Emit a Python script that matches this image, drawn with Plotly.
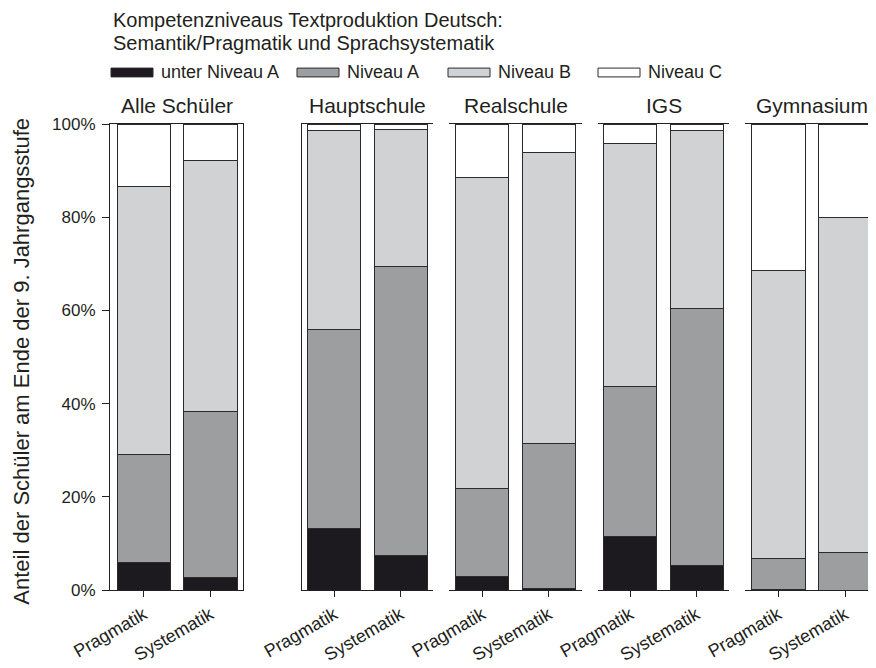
import plotly.graph_objects as go

# ---------------- data ----------------
groups = ["Alle Schüler", "Hauptschule", "Realschule", "IGS", "Gymnasium"]
aspects = ["Pragmatik", "Systematik"]
levels = ["unter Niveau A", "Niveau A", "Niveau B", "Niveau C"]

# values in %, order: group x aspect (Pragmatik, Systematik)
unter_niveau_a = [5.8, 2.6, 13.3, 7.3, 2.8, 0.4, 11.4, 5.3, 0.2, 0.0]
niveau_a = [23.3, 35.6, 42.6, 62.2, 18.9, 31.0, 32.3, 55.2, 6.5, 8.0]
niveau_b = [57.5, 53.9, 42.7, 29.3, 66.8, 62.5, 52.2, 38.1, 61.8, 72.0]
niveau_c = [13.4, 7.9, 1.4, 1.2, 11.5, 6.1, 4.1, 1.4, 31.5, 20.0]

y_tickvals = [0, 20, 40, 60, 80, 100]
y_ticktext = ["0%", "20%", "40%", "60%", "80%", "100%"]

title_lines = ["Kompetenzniveaus Textproduktion Deutsch:",
               "Semantik/Pragmatik und Sprachsystematik"]
y_title = "Anteil der Schüler am Ende der 9. Jahrgangsstufe"

# ---------------- styling ----------------
FONT = "Liberation Sans, Arial, Helvetica, sans-serif"
TXT = "#231f20"
colors = ["#1c1a1e", "#9d9ea0", "#d1d2d4", "#ffffff"]
series = [unter_niveau_a, niveau_a, niveau_b, niveau_c]

# the page body has an 8px margin: figure is placed at (8, 8) in the window
OFF = 8
W, H = 876 - OFF, 668 - OFF
PLOT_L, PLOT_R, PLOT_T, PLOT_B = 110, 873, 124, 599   # window pixel coords
ML = PLOT_L - OFF
MR = W - (PLOT_R - OFF)
MT = PLOT_T - OFF
MB = H - (PLOT_B - OFF)
PW = W - ML - MR
PH = H - MT - MB


def px_x(px):
    return (px - PLOT_L) / PW


def px_y(py):
    return (PLOT_B - py) / PH


# panel pixel extents (window coords)
panels_px = [(110, 243), (302, 433), (449, 582), (598, 729), (745, 873)]
ranges = [[-0.51, 1.49], [-0.49, 1.49], [-0.5, 1.5], [-0.49, 1.49], [-0.5, 1.42]]

fig = go.Figure()

for gi, g in enumerate(groups):
    ax = "" if gi == 0 else str(gi + 1)
    for li, lvl in enumerate(levels):
        vals = series[li][2 * gi: 2 * gi + 2]
        fig.add_trace(go.Bar(
            x=[0, 1], y=vals, name=lvl, width=0.8,
            marker=dict(color=colors[li], line=dict(color="#2b2b2b", width=1)),
            xaxis="x" + ax, yaxis="y" + ax, showlegend=False,
            hovertemplate=g + " %{customdata}<br>" + lvl + ": %{y}%<extra></extra>",
            customdata=aspects,
        ))

layout = dict(
    width=W, height=H, barmode="stack",
    margin=dict(l=ML, r=MR, t=MT, b=MB),
    paper_bgcolor="white", plot_bgcolor="white",
    font=dict(family=FONT, color=TXT, size=17),
    showlegend=False,
)

for gi, (a, b) in enumerate(panels_px):
    ax = "" if gi == 0 else str(gi + 1)
    layout["xaxis" + ax] = dict(
        domain=[px_x(a), px_x(b)], range=ranges[gi], anchor="y" + ax,
        tickvals=[0, 1], ticktext=aspects, tickangle=-30,
        ticks="outside", ticklen=6, tickcolor="#222", tickwidth=1,
        showline=True, linecolor="#222", linewidth=1, mirror=True,
        showgrid=False, zeroline=False, fixedrange=True,
        tickfont=dict(size=18, color=TXT, family=FONT),
    )
    ydef = dict(
        domain=[0, 1], range=[0, 100], anchor="x" + ax,
        showgrid=False, zeroline=False, fixedrange=True,
    )
    if gi == 0:
        ydef.update(showline=True, linecolor="#222", linewidth=1, mirror=True,
                    ticks="outside", ticklen=7, tickcolor="#222",
                    tickvals=y_tickvals, ticktext=y_ticktext,
                    tickfont=dict(size=17, color=TXT, family=FONT),
                    ticklabelstandoff=3)
    elif gi == 1:
        ydef.update(showline=True, linecolor="#222", linewidth=1, mirror=False,
                    showticklabels=False, ticks="")
    else:
        ydef.update(showline=False, showticklabels=False, ticks="")
    layout["yaxis" + ax] = ydef

fig.update_layout(**layout)

annotations = []
# title lines
for line, cy in zip(title_lines, [18.5, 41.5]):
    annotations.append(dict(text=line, xref="paper", yref="paper",
                            x=px_x(111), y=px_y(cy), xanchor="left", yanchor="middle",
                            showarrow=False, font=dict(size=20, color=TXT, family=FONT)))
# group titles
for gi, g in enumerate(groups):
    ax = "" if gi == 0 else str(gi + 1)
    annotations.append(dict(text=g, xref="x" + ax, yref="paper", x=0.5, y=px_y(105),
                            xanchor="center", yanchor="middle", showarrow=False,
                            font=dict(size=21, color=TXT, family=FONT)))
# y title
annotations.append(dict(text=y_title, xref="paper", yref="paper", x=px_x(22), y=0.49,
                        xanchor="center", yanchor="middle", textangle=-90, showarrow=False,
                        font=dict(size=22, color=TXT, family=FONT)))

# legend (manual, wide swatches)
legend_box_x = [111, 297, 448, 598]
shapes = []
for li, lvl in enumerate(levels):
    x0 = legend_box_x[li]
    shapes.append(dict(type="rect", xref="paper", yref="paper",
                       x0=px_x(x0), x1=px_x(x0 + 42), y0=px_y(76), y1=px_y(67),
                       fillcolor=colors[li], line=dict(color="#2b2b2b", width=1)))
    annotations.append(dict(text=lvl, xref="paper", yref="paper",
                            x=px_x(x0 + 48), y=px_y(71.5), xanchor="left", yanchor="middle",
                            showarrow=False, font=dict(size=18, color=TXT, family=FONT)))

fig.update_layout(annotations=annotations, shapes=shapes)

fig.write_html("out.html")
